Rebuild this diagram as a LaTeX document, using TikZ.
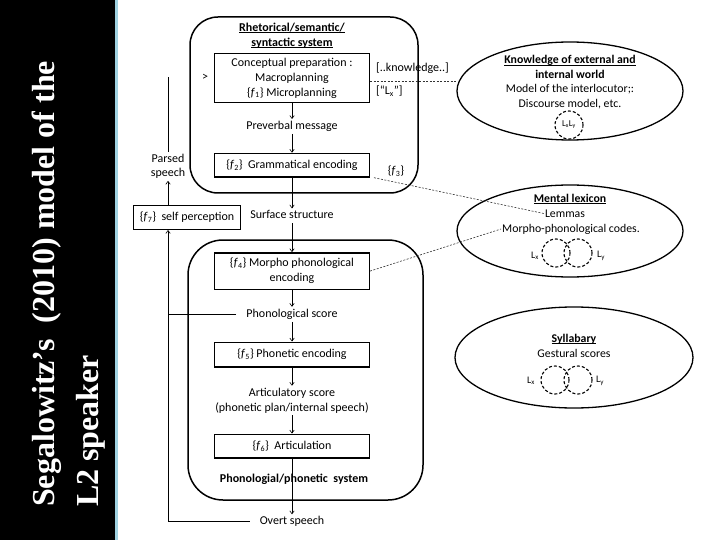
\documentclass[tikz,border=0pt]{standalone}
\usepackage{fontspec}
\setmainfont{Carlito}
\newfontfamily\headfont{Liberation Serif}
\usetikzlibrary{shapes.geometric, arrows.meta, positioning, calc}
\definecolor{bandblue}{RGB}{160,210,225}
\newcommand{\uln}[1]{\setbox0\hbox{#1}\rlap{\raisebox{-1.8pt}{\rule{\wd0}{0.6pt}}}\box0}
\newcommand{\fsub}[1]{\{\textit{f}\textsubscript{#1}\}}
\tikzstyle{stage} = [rectangle, draw=black, line width=1.4pt, minimum width=154.6pt, align=center, inner sep=2pt, font=\fontsize{12}{15}\selectfont]
\tikzstyle{flowtext} = [inner sep=2pt, text height=8pt, text depth=2.6pt, font=\fontsize{12}{15}\selectfont]
\tikzstyle{flowtext2} = [inner sep=2pt, align=center, font=\fontsize{12}{15}\selectfont]
\tikzstyle{system} = [rectangle, draw=black, line width=1.5pt, inner sep=0pt]
\tikzstyle{store} = [ellipse, draw=black, line width=1.3pt, inner sep=0pt]
\tikzstyle{storetext} = [inner sep=1pt, align=center, font=\fontsize{11.8}{14.5}\selectfont]
\tikzstyle{langcircle} = [circle, draw=black, dash pattern=on 3pt off 2pt, line width=1.1pt, minimum size=28pt, inner sep=0pt, font=\fontsize{9}{10}\selectfont]
\tikzstyle{langtext} = [inner sep=1pt, font=\fontsize{10}{11}\selectfont]
\tikzstyle{arrow} = [->, >={Straight Barb[length=3pt,width=4.5pt]}, line width=0.6pt]
\tikzstyle{link} = [dash pattern=on 2pt off 1.5pt, line width=0.6pt, draw=black!80]

\begin{document}
\begin{tikzpicture}[x=1pt, y=1pt, node distance=20pt]
  \useasboundingbox (0,0) rectangle (720,-540);
  % title band
  \fill[black] (0,0) rectangle (115,-540);
  \fill[bandblue] (115,0) rectangle (118,-540);
  \node[rotate=90, anchor=north west, inner sep=0pt, align=left, text=white, font=\headfont\bfseries\fontsize{32}{44}\selectfont] (heading) at (32,-507) {Segalowitz’s~ (2010) model of the\\L2 speaker};

  % the two systems
  \node[system, minimum width=228pt, minimum height=176pt, rounded corners=28pt] (rhet) at (304,-105) {};
  \node[system, minimum width=235pt, minimum height=260pt, rounded corners=35pt] (phono) at (305.5,-370) {};
  \node[align=center, inner sep=1pt, font=\bfseries\fontsize{12}{15}\selectfont] (rhettitle) at (292,-35.5) {\uln{Rhetorical/semantic/}\\\uln{syntactic system}};
  \node[inner sep=1pt, font=\bfseries\fontsize{12}{13}\selectfont] (phonotitle) at (294,-479) {Phonologial/phonetic~ system};

  % main column
  \node[stage, minimum height=48.6pt] (concept) at (292,-78) {Conceptual preparation :\\Macroplanning\\\fsub{1} Microplanning};
  \node[flowtext, below=16pt of concept] (preverbal) {Preverbal message};
  \node[stage, minimum height=23.6pt, below=18.7pt of preverbal] (gram) {\fsub{2}~ Grammatical encoding};
  \node[flowtext, below=30.7pt of gram] (surface) {Surface structure};
  \node[stage, minimum height=36.6pt, below=28.7pt of surface] (morpho) {\fsub{4} Morpho phonological\\encoding};
  \node[flowtext, inner xsep=10pt, below=16.7pt of morpho] (phonscore) {Phonological score};
  \node[stage, minimum height=24.6pt, below=19.7pt of phonscore] (phonetic) {\fsub{5} Phonetic encoding};
  \node[flowtext2, below=18.2pt of phonetic] (artscore) {Articulatory score\\(phonetic plan/internal speech)};
  \node[stage, minimum height=23.6pt, below=18.2pt of artscore] (artic) {\fsub{6}~ Articulation};
  \node[flowtext, inner xsep=10pt, below=55.7pt of artic] (overt) {Overt speech};

  % monitoring side
  \node[stage, minimum width=106.6pt, minimum height=23.6pt] (selfp) at (187,-217.5) {\fsub{7}~ self perception};
  \node[flowtext2, font=\fontsize{12}{14}\selectfont] (parsed) at (168,-166.5) {Parsed\\speech};
  \coordinate (loopx) at (168,0);
  \coordinate (loopend) at (168,-77);
  \node[flowtext] (mark) at (205,-78) {>};

  % notes next to the rhetorical system
  \node[flowtext, anchor=west] (knowl) at (374,-69) {[..knowledge..]};
  \node[flowtext, anchor=west] (lxq) at (374,-92) {[``L\textsubscript{x}'']};
  \node[flowtext] (ftri) at (396,-172) {\fsub{3}};

  % knowledge stores
  \node[store, minimum width=226pt, minimum height=98pt] (know) at (570,-91) {};
  \node[storetext] (knowtxt) at (570,-82) {\textbf{\uln{Knowledge of external and}}\\\textbf{internal world}\\Model of the interlocutor;:\\Discourse model, etc.};
  \node[langcircle] (knowlang) at (569,-125) {L\textsubscript{x}L\textsubscript{y}};

  \node[store, minimum width=226pt, minimum height=92pt] (lex) at (570,-231) {};
  \node[storetext, font=\bfseries\fontsize{11.8}{14.5}\selectfont] (lexhead) at (570,-199) {\uln{Mental lexicon}};
  \node[storetext] (lemmas) at (565,-213.5) {Lemmas};
  \node[storetext] (codes) at (571,-229) {Morpho-phonological codes.};
  \node[langcircle] (lexlx) at (556,-253) {};
  \node[langcircle] (lexly) at (578,-253) {};
  \node[langtext] (lexlxtxt) at (535,-256) {L\textsubscript{x}};
  \node[langtext] (lexlytxt) at (601,-256) {L\textsubscript{y}};

  \node[store, minimum width=238pt, minimum height=101pt] (syll) at (574,-357.5) {};
  \node[storetext, font=\bfseries\fontsize{11.8}{14.5}\selectfont] (syllhead) at (574,-339) {\uln{Syllabary}};
  \node[storetext] (gest) at (574,-353) {Gestural scores};
  \node[langcircle] (syllx) at (555,-380) {};
  \node[langcircle] (sylly) at (578,-380) {};
  \node[langtext] (syllxtxt) at (531,-381) {L\textsubscript{x}};
  \node[langtext] (syllytxt) at (600,-381) {L\textsubscript{y}};

  % flow
  \draw[arrow] (concept) -- (preverbal);
  \draw[arrow] (preverbal) -- (gram);
  \draw[arrow] (gram) -- (surface);
  \draw[arrow] (surface) -- (morpho);
  \draw[arrow] (morpho) -- (phonscore);
  \draw[arrow] (phonscore) -- (phonetic);
  \draw[arrow] (phonetic) -- (artscore);
  \draw[arrow] (artscore) -- (artic);
  \draw[arrow] (artic) -- (overt);

  % feedback loop
  \draw[arrow] (overt.west) -- (overt.west -| loopx) -- (loopx |- selfp.south);
  \draw[line width=0.6pt] (phonscore.west) -- (phonscore.west -| loopx);
  \draw[arrow] (loopx |- selfp.north) -- (parsed.south);
  \draw[line width=0.6pt] (parsed.north) -- (loopend);

  % links to the stores
  \draw[link] ([yshift=-3pt]concept.east) -- ([yshift=-3pt]concept.east -| know.west);
  \draw[link] ([xshift=4pt]gram.south east) -- (lemmas.west);
  \draw[link] (morpho.east) -- (codes.west);
\end{tikzpicture}
\end{document}
